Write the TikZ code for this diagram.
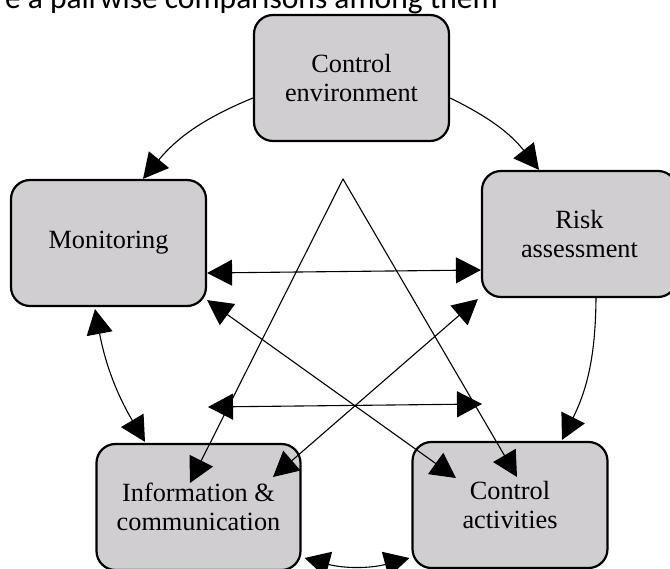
\documentclass[tikz,border=0pt]{standalone}
\usepackage{fontspec}
\setmainfont{Liberation Serif}
\newfontfamily\capfont{Carlito}
\usetikzlibrary{arrows.meta}
\definecolor{boxgray}{RGB}{208,206,208}
\begin{document}
\begin{tikzpicture}[x=1pt,y=-1pt,
  box/.style={draw=black, line width=2.2pt, fill=boxgray, rounded corners=19pt,
    minimum width=195pt, minimum height=126pt, inner sep=0pt, align=center,
    font=\fontsize{26.3}{29}\selectfont},
  conn/.style={line width=1.1pt, -{Triangle[length=25pt,width=26pt]}},
  dconn/.style={line width=1.1pt, {Triangle[length=25pt,width=26pt]}-{Triangle[length=25pt,width=26pt]}}]
\useasboundingbox (0,0) rectangle (670,569);
\node[font=\capfont\fontsize{31.5}{36}\selectfont, anchor=base east, inner sep=0pt] (cap) at (498,9) {e a pairwise comparisons among them};
\node[box] (ce) at (351.5,78) {Control\\environment};
\node[box] (mon) at (108.5,243) {Monitoring};
\node[box] (ra) at (579.5,234) {Risk\\assessment};
\node[box, minimum width=204pt] (info) at (198.5,507) {Information \&\\communication};
\node[box] (ca) at (510,505) {Control\\activities};
\coordinate (apex) at (343,179);
\coordinate (hl) at (208,407);
\coordinate (hr) at (482,404);
% edges
\draw[conn] ([yshift=-20pt]ce.west) to[bend right=14] ([xshift=34.5pt]mon.north);
\draw[conn] ([yshift=-20pt]ce.east) to[bend left=13] ([xshift=-40.5pt]ra.north);
\draw[dconn] ([shift={(-8.5pt,24pt)}]info.center) -- (apex) -- ([shift={(7pt,28pt)}]ca.center);
\draw[dconn] ([yshift=-30pt]mon.east) -- ([yshift=-36pt]ra.west);
\draw[dconn] ([yshift=7pt]mon.south east) -- ([shift={(-54pt,27pt)}]ca.center);
\draw[dconn] ([shift={(-3pt,-1pt)}]ra.south west) -- ([shift={(74.5pt,30pt)}]info.center);
\draw[dconn] (hl) -- (hr);
\draw[dconn] ([xshift=-13.5pt,yshift=-2pt]mon.south) to[bend right=10] ([xshift=-53.5pt,yshift=1pt]info.north);
\draw[conn] ([xshift=16.5pt]ra.south) to[bend left=13] ([xshift=52pt,yshift=1pt]ca.north);
\draw[dconn] ([shift={(3pt,-51pt)}]info.east) to[bend right=15] ([shift={(-2pt,-53pt)}]ca.west);
\end{tikzpicture}
\end{document}
